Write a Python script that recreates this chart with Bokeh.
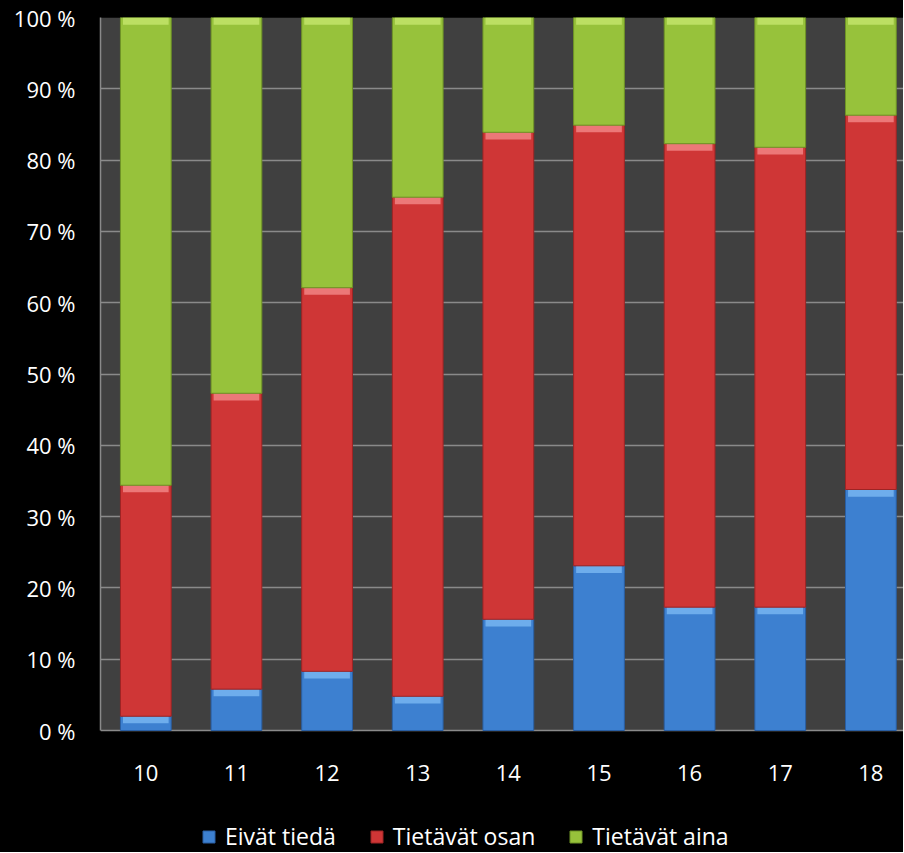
from bokeh.plotting import figure
from bokeh.models import (ColumnDataSource, FixedTicker, Legend, LegendItem, Range1d,
                          BoxAnnotation)
from bokeh.core.properties import value
from bokeh.embed import file_html
from bokeh.resources import INLINE

categories = ["10", "11", "12", "13", "14", "15", "16", "17", "18"]
eivat_tieda = [2.0, 5.8, 8.3, 4.8, 15.6, 23.1, 17.3, 17.3, 33.8]
tietavat_osan = [32.4, 41.5, 53.8, 70.0, 68.3, 61.8, 65.0, 64.5, 52.5]
tietavat_aina = [65.6, 52.7, 37.9, 25.2, 16.1, 15.1, 17.7, 18.2, 13.7]
series_names = ["Eivät tiedä", "Tietävät osan", "Tietävät aina"]
y_ticks = [0, 10, 20, 30, 40, 50, 60, 70, 80, 90, 100]

colors = ["#3d80d0", "#cf3636", "#97c23b"]
edge_colors = ["#2a5fa3", "#9e2424", "#6f9426"]
highlight = ["#7ab8f2", "#f28a8a", "#c6e66e"]

FONT = "Open Sans"

x = list(range(len(categories)))
bottom1 = [0.0] * len(x)
top1 = eivat_tieda
bottom2 = top1
top2 = [a + b for a, b in zip(eivat_tieda, tietavat_osan)]
bottom3 = top2
top3 = [a + b + c for a, b, c in zip(eivat_tieda, tietavat_osan, tietavat_aina)]

# plot area (0..100 %) is 713 px tall; the frame continues 122 px below 0 % for the labels/legend
p = figure(frame_width=803, frame_height=835, output_backend="svg", toolbar_location=None,
           x_range=Range1d(-0.5, 8.36), y_range=Range1d(-100 * 122 / 713, 100),
           min_border_left=100, min_border_top=17, min_border_bottom=0, min_border_right=0)
p.background_fill_color = "#000000"
p.border_fill_color = "#000000"
p.outline_line_color = None
p.styles = {"background-color": "#000000"}

plot_area = BoxAnnotation(bottom=0, top=100, fill_color="#404040", fill_alpha=1,
                          line_color=None, level="image")
p.add_layout(plot_area)

bw = 0.56
renderers = []
for i, (b, t) in enumerate([(bottom1, top1), (bottom2, top2), (bottom3, top3)]):
    src = ColumnDataSource(dict(x=x, bottom=b, top=t))
    r = p.vbar(x="x", bottom="bottom", top="top", width=bw, source=src,
               fill_color=colors[i], line_color=edge_colors[i], line_width=1)
    renderers.append(r)
    hb = [max(tt - 1.0, bb) for bb, tt in zip(b, t)]
    hsrc = ColumnDataSource(dict(x=x, bottom=hb, top=t))
    p.vbar(x="x", bottom="bottom", top="top", width=bw * 0.9, source=hsrc,
           fill_color=highlight[i], line_color=None, fill_alpha=0.8)

# category labels under the 0 % line
lab_src = ColumnDataSource(dict(x=x, y=[0] * len(x), text=categories))
p.text(x="x", y="y", text="text", source=lab_src, text_color="#ffffff",
       text_font=value(FONT), text_font_size="22px", text_align="center",
       text_baseline="top", y_offset=34)

p.xaxis.visible = False
p.yaxis.ticker = FixedTicker(ticks=y_ticks)
p.yaxis.bounds = (0, 100)
p.yaxis.major_label_overrides = {v: f"{v} %" for v in y_ticks}
p.yaxis.axis_line_color = "#8a8a8a"
p.yaxis.axis_line_width = 1.5
p.yaxis.major_tick_line_color = None
p.yaxis.minor_tick_line_color = None
p.yaxis.major_tick_out = 0
p.yaxis.major_tick_in = 0
p.yaxis.major_label_text_color = "#ffffff"
p.yaxis.major_label_text_font = FONT
p.yaxis.major_label_text_font_size = "22px"
p.yaxis.major_label_standoff = 25

p.xgrid.grid_line_color = None
p.ygrid.ticker = FixedTicker(ticks=y_ticks)
p.ygrid.grid_line_color = "#8a8a8a"
p.ygrid.grid_line_width = 1.5

legend = Legend(items=[LegendItem(label=n, renderers=[r]) for n, r in zip(series_names, renderers)],
                orientation="horizontal", location=(101, 0))
legend.background_fill_alpha = 0
legend.border_line_color = None
legend.label_text_color = "#ffffff"
legend.label_text_font = FONT
legend.label_text_font_size = "23px"
legend.glyph_width = 15
legend.glyph_height = 15
legend.spacing = 33
legend.label_standoff = 9
legend.margin = 0
legend.padding = 0
p.add_layout(legend, "center")

open("out.html", "w").write(file_html(p, INLINE))
